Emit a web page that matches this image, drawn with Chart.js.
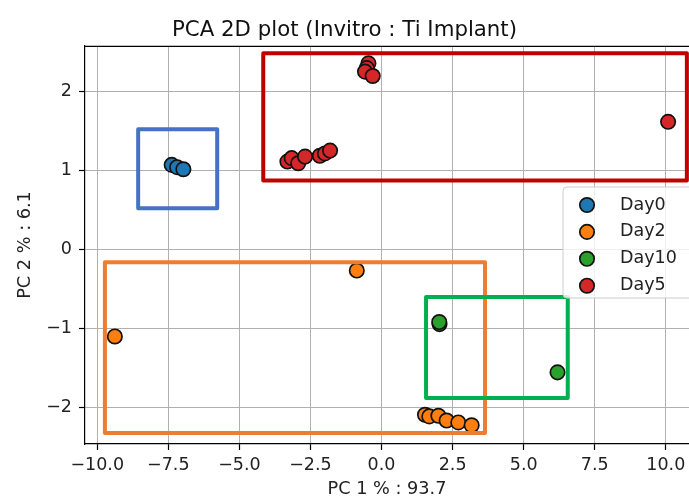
<!DOCTYPE html>
<html>
<head>
<meta charset="utf-8">
<script src="https://cdn.jsdelivr.net/npm/chart.js@4.4.1/dist/chart.umd.min.js"></script>
<style>
  html, body { margin: 0; padding: 0; background: #ffffff; }
  #wrap { width: 689px; height: 500px; position: relative; }
</style>
</head>
<body>
<div id="wrap"><canvas id="pca"></canvas></div>
<script>
// Groups (sampling day) and their PCA scores
const categories = ['Day0', 'Day2', 'Day10', 'Day5'];

const day0X = [-7.38, -7.19, -6.97];
const day0Y = [1.075, 1.046, 1.02];

const day2X = [-9.38, -0.87, 1.53, 1.68, 2.00, 2.29, 2.70, 3.17];
const day2Y = [-1.096, -0.262, -2.087, -2.108, -2.10, -2.16, -2.184, -2.22];

const day10X = [2.04, 2.03, 6.19];
const day10Y = [-0.94, -0.914, -1.55];

const day5X = [-3.31, -3.16, -2.93, -2.69, -2.17, -1.99, -1.81, -0.46, -0.52, -0.58, -0.31, 10.08];
const day5Y = [1.117, 1.16, 1.096, 1.18, 1.19, 1.22, 1.256, 2.36, 2.30, 2.255, 2.20, 1.62];

// Tick values for both axes
const xTicks = [-10, -7.5, -5, -2.5, 0, 2.5, 5, 7.5, 10];
const yTicks = [-2, -1, 0, 1, 2];

// Cluster outlines in data units: [xMin, xMax, yMin, yMax]
const clusterBlue   = [-8.56, -5.78, 0.527, 1.526];
const clusterRed    = [-4.16, 10.74, 0.876, 2.487];
const clusterOrange = [-9.73, 3.64, -2.318, -0.156];
const clusterGreen  = [1.566, 6.55, -1.875, -0.598];

const FONT = 'DejaVu Sans';
const pointColors = ['#1f77b4', '#ff7f0e', '#2ca02c', '#d62728'];
const seriesX = [day0X, day2X, day10X, day5X];
const seriesY = [day0Y, day2Y, day10Y, day5Y];

const datasets = categories.map((name, i) => ({
  label: name,
  data: seriesX[i].map((x, j) => ({ x: x, y: seriesY[i][j] })),
  backgroundColor: pointColors[i],
  borderColor: '#111111',
  borderWidth: 1.7,
  pointRadius: 7.2,
  pointHoverRadius: 7.2
}));

const outlines = [
  { box: clusterBlue,   color: '#4472c4' },
  { box: clusterRed,    color: '#c00000' },
  { box: clusterOrange, color: '#ed7d31' },
  { box: clusterGreen,  color: '#00b050' }
];

// Top spine of the axes frame
const framePlugin = {
  id: 'frame',
  beforeDatasetsDraw(chart) {
    const { ctx, chartArea: a } = chart;
    ctx.save();
    ctx.strokeStyle = '#000';
    ctx.lineWidth = 1.2;
    ctx.beginPath();
    ctx.moveTo(a.left, a.top + 0.5);
    ctx.lineTo(a.right, a.top + 0.5);
    ctx.stroke();
    ctx.restore();
  }
};

// Rectangles around each cluster, placed through the scales
const outlinePlugin = {
  id: 'outlines',
  afterDatasetsDraw(chart) {
    const { ctx, scales: { x, y } } = chart;
    ctx.save();
    ctx.lineWidth = 4;
    ctx.lineJoin = 'round';
    outlines.forEach(o => {
      const [x0, x1, y0, y1] = o.box;
      const px0 = x.getPixelForValue(x0), px1 = x.getPixelForValue(x1);
      const py0 = y.getPixelForValue(y1), py1 = y.getPixelForValue(y0);
      ctx.strokeStyle = o.color;
      ctx.strokeRect(px0, py0, px1 - px0, py1 - py0);
    });
    ctx.restore();
  }
};

// Legend box inside the plot area
const legendPlugin = {
  id: 'innerLegend',
  afterDraw(chart) {
    const { ctx } = chart;
    const left = 563, top = 187, w = 130, h = 111, r = 4;
    ctx.save();
    ctx.beginPath();
    ctx.roundRect(left, top, w, h, r);
    ctx.fillStyle = 'rgba(255,255,255,0.8)';
    ctx.fill();
    ctx.strokeStyle = '#cccccc';
    ctx.lineWidth = 1;
    ctx.stroke();
    ctx.font = '17.5px "' + FONT + '"';
    ctx.textBaseline = 'middle';
    chart.data.datasets.forEach((ds, i) => {
      const cy = top + 18 + i * 26.9;
      ctx.beginPath();
      ctx.arc(left + 24, cy, 7.2, 0, Math.PI * 2);
      ctx.fillStyle = ds.backgroundColor;
      ctx.fill();
      ctx.lineWidth = 1.7;
      ctx.strokeStyle = '#111111';
      ctx.stroke();
      ctx.fillStyle = '#222222';
      ctx.fillText(ds.label, left + 57, cy);
    });
    ctx.restore();
  }
};

new Chart(document.getElementById('pca'), {
  type: 'scatter',
  data: { datasets: datasets },
  plugins: [framePlugin, outlinePlugin, legendPlugin],
  options: {
    responsive: true,
    maintainAspectRatio: false,
    animation: false,
    layout: { autoPadding: false, padding: { left: 0, right: 0, top: 0, bottom: 0 } },
    plugins: {
      legend: { display: false },
      tooltip: { enabled: false },
      title: {
        display: true,
        text: 'PCA 2D plot (Invitro : Ti Implant)',
        color: '#111111',
        font: { family: FONT, size: 21.3, weight: 'normal' },
        padding: { top: 18, bottom: 2.4 }
      }
    },
    scales: {
      x: {
        type: 'linear',
        min: -10.43,
        max: 10.815,
        afterBuildTicks(scale) { scale.ticks = xTicks.map(v => ({ value: v })); },
        afterFit(scale) { scale.height = 56; scale.paddingRight = 0; scale.paddingLeft = 0; },
        ticks: {
          color: '#222222',
          font: { family: FONT, size: 17.5 },
          padding: 5,
          maxRotation: 0,
          autoSkip: false,
          callback: v => (v < 0 ? '\u2212' : '') + Math.abs(v).toFixed(1)
        },
        grid: { color: '#b0b0b0', lineWidth: 1, tickColor: '#000000', tickLength: 6, tickWidth: 1.2 },
        border: { display: true, color: '#000000', width: 1.2 },
        title: {
          display: true,
          text: 'PC 1 % : 93.7',
          color: '#222222',
          font: { family: FONT, size: 17.7 },
          padding: { top: 2, bottom: 0 }
        }
      },
      y: {
        type: 'linear',
        min: -2.457,
        max: 2.58,
        afterBuildTicks(scale) { scale.ticks = yTicks.map(v => ({ value: v })); },
        afterFit(scale) { scale.width = 85; },
        ticks: {
          color: '#222222',
          font: { family: FONT, size: 17.5 },
          padding: 7,
          autoSkip: false,
          callback: v => (v < 0 ? '\u2212' : '') + Math.abs(v)
        },
        grid: { color: '#b0b0b0', lineWidth: 1, tickColor: '#000000', tickLength: 6, tickWidth: 1.2 },
        border: { display: true, color: '#000000', width: 1.2 },
        title: {
          display: true,
          text: 'PC 2 % : 6.1',
          color: '#222222',
          font: { family: FONT, size: 17.7 },
          padding: { top: 14.4, bottom: 2 }
        }
      }
    }
  }
});
</script>
</body>
</html>
